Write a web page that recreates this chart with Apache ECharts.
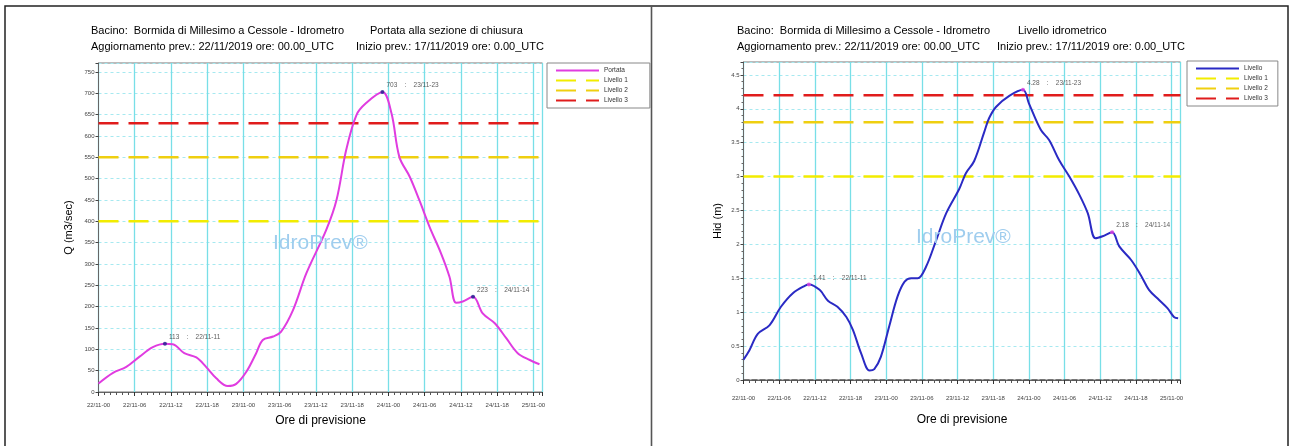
<!DOCTYPE html>
<html>
<head>
<meta charset="utf-8">
<script src="https://cdn.jsdelivr.net/npm/echarts@6/dist/echarts.min.js"></script>
<style>
  html, body { margin: 0; padding: 0; background: #fff; }
  #chart { width: 1295px; height: 446px; }
</style>
</head>
<body>
<div id="chart"></div>
<script>
// hours from 22/11 00 UTC
const portataHours = [0, 2.4, 4.6, 6.8, 9.0, 11, 12.3, 14.2, 16.2, 17.8, 19.5, 21.4, 22.8, 24.5, 26.1, 27.2, 28.9, 30.2, 32.2, 34.4, 37.7, 39.4, 41.0, 42.7, 44.3, 47, 48.5, 49.8, 51.5, 53.1, 54.8, 56.7, 58.1, 59.2, 60.3, 62, 63.6, 65.6, 67.5, 69.4, 71.4, 73.0]
const portataValues = [20, 45, 59, 83, 105, 113, 112, 91, 81, 59, 32, 14, 19, 48, 91, 122, 130, 141, 192, 278, 380, 450, 567, 649, 677, 703, 653, 551, 505, 450, 387, 325, 270, 209, 212, 223, 184, 161, 126, 91, 75, 65]

const livelloHours = [0, 1.0, 2.4, 4.4, 6.3, 8.3, 10.3, 11, 12.8, 14.2, 15.8, 17.3, 18.4, 19.8, 21.2, 22, 23.1, 24.5, 25.9, 27.1, 28.2, 29.3, 30.7, 32.4, 34.1, 36.3, 37.4, 38.8, 40.5, 41.3, 42.5, 44.7, 47, 48, 50, 51.4, 53.1, 54.8, 56.5, 57.9, 59.2, 60.4, 62, 63.2, 65.2, 66.8, 68.2, 69.9, 71.3, 72.4, 73.1]
const livelloValues = [0.30, 0.44, 0.68, 0.81, 1.08, 1.28, 1.39, 1.41, 1.33, 1.17, 1.08, 0.93, 0.74, 0.39, 0.14, 0.16, 0.34, 0.79, 1.23, 1.45, 1.50, 1.50, 1.67, 2.06, 2.46, 2.82, 3.05, 3.23, 3.66, 3.86, 4.03, 4.19, 4.28, 4.08, 3.69, 3.54, 3.24, 3.00, 2.73, 2.46, 2.09, 2.12, 2.18, 1.97, 1.77, 1.55, 1.33, 1.18, 1.06, 0.93, 0.91]

const levelNames = ['Livello 1', 'Livello 2', 'Livello 3']
const levelColors = ['#f2ec00', '#efcf10', '#e01c1c']
const portataLevels = [400, 550, 630]
const livelloLevels = [3.0, 3.8, 4.2]

const peakHours = [11, 47, 62]
const portataPeaks = [113, 703, 223]
const livelloPeaks = [1.41, 4.28, 2.18]

const hourRange = [0, 73.5]
const FONT = 'Liberation Sans, Arial, sans-serif'

const hourLabel = (h) => {
  const day = 22 + Math.floor(h / 24)
  const hh = h % 24
  return `${day}/11-${String(hh).padStart(2, '0')}`
}

const pairs = (xs, ys) => xs.map((x, i) => [x, ys[i]])

const xAxisFor = (gridIndex, offset, labelMargin, nameGap) => ({
  type: 'value',
  gridIndex,
  min: hourRange[0],
  max: hourRange[1],
  interval: 6,
  offset,
  name: 'Ore di previsione',
  nameLocation: 'middle',
  nameGap,
  nameTextStyle: { fontFamily: FONT, fontSize: 12, color: '#000' },
  axisLine: { lineStyle: { color: '#666' } },
  axisTick: { length: 4, lineStyle: { color: '#333' } },
  minorTick: { show: true, splitNumber: 6, length: 3, lineStyle: { color: '#555' } },
  axisLabel: {
    fontFamily: FONT, fontSize: 6, color: '#444', margin: labelMargin,
    formatter: (v) => (v % 6 === 0 ? hourLabel(v) : ''),
  },
  splitLine: { show: true, lineStyle: { color: '#78dfe7', width: 1.3 } },
})

const yAxisFor = (gridIndex, max, step, name, nameGap) => ({
  type: 'value',
  gridIndex,
  min: 0,
  max,
  interval: step,
  name,
  nameLocation: 'middle',
  nameGap,
  nameTextStyle: { fontFamily: FONT, fontSize: 11, color: '#000' },
  axisLine: { show: true, lineStyle: { color: '#666' } },
  axisTick: { show: true, length: 3, lineStyle: { color: '#444' } },
  axisLabel: {
    fontFamily: FONT, fontSize: 6, color: '#444', margin: 4,
    formatter: (v) => (Math.abs(v / step - Math.round(v / step)) < 1e-6 ? String(+v.toFixed(2)) : ''),
  },
  splitLine: { show: true, lineStyle: { color: '#a6e9f0', type: [3, 3], width: 1 } },
})

const levelSeries = (levels, axis) => levels.map((v, i) => ({
  name: levelNames[i],
  type: 'line',
  xAxisIndex: axis,
  yAxisIndex: axis,
  symbol: 'none',
  silent: true,
  data: hourRange.map((h) => [h, v]),
  lineStyle: { color: levelColors[i], width: 2.5, type: [20, 10] },
  itemStyle: { color: levelColors[i] },
  z: 3,
}))

const peakSeries = (values, axis, color) => ({
  type: 'scatter',
  xAxisIndex: axis,
  yAxisIndex: axis,
  symbolSize: 4,
  data: pairs(peakHours, values),
  itemStyle: { color },
  label: {
    show: true,
    position: [6, -8],
    fontFamily: FONT,
    fontSize: 6.5,
    color: '#333',
    formatter: (p) => `${p.value[1]}    :    ${hourLabel(p.value[0])}`,
  },
  z: 6,
})

const legendFor = (left, top, first, padRight) => ({
  orient: 'vertical',
  left,
  top,
  selectedMode: false,
  data: [first, ...levelNames],
  itemWidth: 43,
  itemHeight: 8,
  itemGap: 3,
  padding: [4, padRight, 4, 8],
  borderColor: '#888',
  borderWidth: 1,
  backgroundColor: '#fff',
  itemStyle: { opacity: 0 },
  textStyle: { fontFamily: FONT, fontSize: 6.5, color: '#333' },
})

const text = (x, y, str, size, fill) => ({
  type: 'text',
  x, y,
  style: { text: str, fontFamily: FONT, fontSize: size, fill, textVerticalAlign: 'middle' },
  z: 10,
})

const chart = echarts.init(document.getElementById('chart'), null, { renderer: 'canvas' })

chart.setOption({
  animation: false,
  backgroundColor: '#fff',
  grid: [
    { left: 98.5, top: 63, width: 444, height: 329, show: true, borderColor: '#777', borderWidth: 1, backgroundColor: '#fff' },
    { left: 743.5, top: 62, width: 437, height: 318, show: true, borderColor: '#777', borderWidth: 1, backgroundColor: '#fff' },
  ],
  xAxis: [xAxisFor(0, 0, 10, 23), xAxisFor(1, 3, 12, 31)],
  yAxis: [
    yAxisFor(0, 771, 50, 'Q (m3/sec)', 24),
    {
      ...yAxisFor(1, 4.69, 0.5, 'Hid (m)', 20),
      minorTick: { show: true, splitNumber: 5, length: 2, lineStyle: { color: '#666' } },
    },
  ],
  legend: [legendFor(547, 63, 'Portata', 22), legendFor(1187, 61, 'Livello', 10)],
  series: [
    {
      name: 'Portata',
      type: 'line',
      xAxisIndex: 0,
      yAxisIndex: 0,
      smooth: 0.35,
      symbol: 'none',
      data: pairs(portataHours, portataValues),
      lineStyle: { color: '#e03ce0', width: 2 },
      itemStyle: { color: '#e03ce0' },
      z: 4,
    },
    ...levelSeries(portataLevels, 0),
    peakSeries(portataPeaks, 0, '#1b1b8c'),
    {
      type: 'line',
      xAxisIndex: 1,
      yAxisIndex: 1,
      symbol: 'none',
      silent: true,
      data: hourRange.map((h) => [h, 0]),
      lineStyle: { color: '#333', width: 1, type: [6, 2] },
      z: 3,
    },
    {
      name: 'Livello',
      type: 'line',
      xAxisIndex: 1,
      yAxisIndex: 1,
      smooth: 0.35,
      symbol: 'none',
      data: pairs(livelloHours, livelloValues),
      lineStyle: { color: '#2a2ac4', width: 2 },
      itemStyle: { color: '#2a2ac4' },
      z: 4,
    },
    ...levelSeries(livelloLevels, 1),
    peakSeries(livelloPeaks, 1, '#e040e0'),
  ],
  graphic: [
    { type: 'rect', shape: { x: 5, y: 6, width: 1283, height: 460 }, style: { fill: null, stroke: '#222', lineWidth: 1.5 }, z: 20 },
    { type: 'line', shape: { x1: 651.5, y1: 6, x2: 651.5, y2: 446 }, style: { stroke: '#555', lineWidth: 1.6 }, z: 20 },
    text(91, 31, 'Bacino:  Bormida di Millesimo a Cessole - Idrometro', 11, '#000'),
    text(370, 31, 'Portata alla sezione di chiusura', 11, '#000'),
    text(91, 47, 'Aggiornamento prev.: 22/11/2019 ore: 00.00_UTC', 11, '#000'),
    text(356, 47, 'Inizio prev.: 17/11/2019 ore: 0.00_UTC', 11, '#000'),
    text(737, 31, 'Bacino:  Bormida di Millesimo a Cessole - Idrometro', 11, '#000'),
    text(1018, 31, 'Livello idrometrico', 11, '#000'),
    text(737, 47, 'Aggiornamento prev.: 22/11/2019 ore: 00.00_UTC', 11, '#000'),
    text(997, 47, 'Inizio prev.: 17/11/2019 ore: 0.00_UTC', 11, '#000'),
    text(273, 243, 'IdroPrev®', 21, '#9fcdee'),
    text(916, 237, 'IdroPrev®', 21, '#9fcdee'),
  ],
})
</script>
</body>
</html>
